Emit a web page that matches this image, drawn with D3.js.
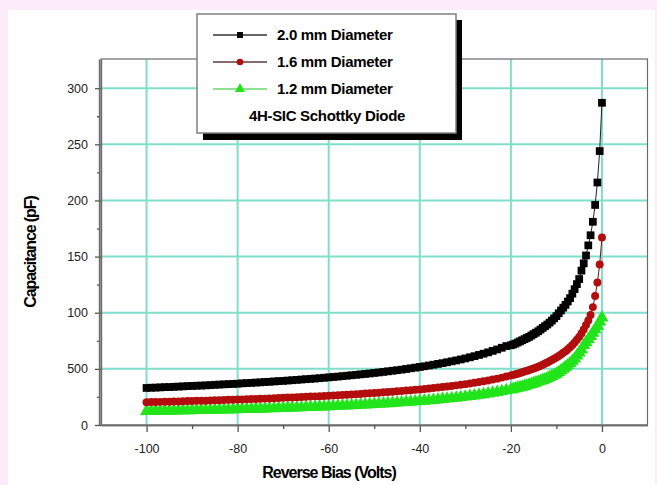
<!DOCTYPE html>
<html>
<head>
<meta charset="utf-8">
<script src="https://cdn.jsdelivr.net/npm/d3@7"></script>
<style>
  body { margin: 0; background: #fcecfb; }
  svg { display: block; font-family: "Liberation Sans", Arial, sans-serif; }
</style>
</head>
<body>
<div id="chart"></div>
<script>
// reverse bias sweep (volts): half-volt steps down to -20 V, then 1 V steps
const VOLTAGE = [0, -0.5, -1, -1.5, -2, -2.5, -3, -3.5, -4, -4.5, -5,
  -5.5, -6, -6.5, -7, -7.5, -8, -8.5, -9, -9.5, -10,
  -10.5, -11, -11.5, -12, -12.5, -13, -13.5, -14, -14.5, -15,
  -15.5, -16, -16.5, -17, -17.5, -18, -18.5, -19, -19.5, -20,
  -21, -22, -23, -24, -25, -26, -27, -28, -29, -30,
  -31, -32, -33, -34, -35, -36, -37, -38, -39, -40,
  -41, -42, -43, -44, -45, -46, -47, -48, -49, -50,
  -51, -52, -53, -54, -55, -56, -57, -58, -59, -60,
  -61, -62, -63, -64, -65, -66, -67, -68, -69, -70,
  -71, -72, -73, -74, -75, -76, -77, -78, -79, -80,
  -81, -82, -83, -84, -85, -86, -87, -88, -89, -90,
  -91, -92, -93, -94, -95, -96, -97, -98, -99, -100];

// capacitance (pF)
const CAP_20MM = [287, 244, 216, 196, 181, 169, 160, 151, 144, 137.5, 130,
  125.5, 121, 117, 113, 110, 107, 104.5, 102, 99.5, 97,
  95, 93, 91.2, 89.5, 88, 86.5, 85, 83.5, 82.2, 81,
  79.7, 78.5, 77.5, 76.5, 75.5, 74.5, 73.5, 72.5, 71.7, 71,
  70.3, 68.8, 67.3, 66.0, 64.7, 63.5, 62.4, 61.3, 60.3, 59.3,
  58.4, 57.5, 56.7, 55.9, 55.1, 54.4, 53.7, 53.0, 52.3, 51.7,
  51.1, 50.5, 49.9, 49.3, 48.8, 48.3, 47.8, 47.3, 46.8, 46.4,
  45.9, 45.5, 45.1, 44.7, 44.3, 43.9, 43.5, 43.1, 42.8, 42.4,
  42.1, 41.7, 41.4, 41.1, 40.8, 40.5, 40.2, 39.9, 39.6, 39.3,
  39.1, 38.8, 38.5, 38.3, 38.0, 37.8, 37.5, 37.3, 37.1, 36.8,
  36.6, 36.4, 36.2, 36.0, 35.8, 35.5, 35.3, 35.1, 35.0, 34.8,
  34.6, 34.4, 34.2, 34.0, 33.8, 33.7, 33.5, 33.3, 33.2, 33.0];

const CAP_16MM = [167, 143, 127, 115, 105, 98, 93, 89, 85, 81.5, 78.5,
  76, 73.5, 71.3, 69.3, 67.5, 65.8, 64.3, 62.8, 61.5, 60.2,
  59, 57.8, 56.7, 55.7, 54.7, 53.7, 52.8, 51.9, 51.1, 50.3,
  49.6, 48.9, 48.2, 47.6, 46.9, 46.3, 45.7, 45.2, 44.6, 44.1,
  43.1, 42.2, 41.3, 40.5, 39.7, 39.0, 38.3, 37.7, 37.0, 36.4,
  35.9, 35.3, 34.8, 34.3, 33.9, 33.4, 33.0, 32.5, 32.1, 31.7,
  31.4, 31.0, 30.7, 30.3, 30.0, 29.7, 29.4, 29.1, 28.8, 28.5,
  28.2, 28.0, 27.7, 27.5, 27.2, 27.0, 26.7, 26.5, 26.3, 26.1,
  25.9, 25.7, 25.5, 25.3, 25.1, 24.9, 24.7, 24.5, 24.4, 24.2,
  24.0, 23.9, 23.7, 23.5, 23.4, 23.2, 23.1, 22.9, 22.8, 22.7,
  22.5, 22.4, 22.2, 22.1, 22.0, 21.9, 21.7, 21.6, 21.5, 21.4,
  21.3, 21.2, 21.0, 20.9, 20.8, 20.7, 20.6, 20.5, 20.4, 20.3];

const CAP_12MM = [95.5, 92, 88, 85, 82, 79, 76.5, 73.5, 71, 67, 64.5,
  61.8, 59, 57, 55, 53.2, 51.5, 50, 48.5, 47, 45.5,
  44.5, 43.5, 42.5, 41.5, 40.7, 40, 39.2, 38.5, 37.7, 37,
  36.4, 35.8, 35.2, 34.6, 34, 33.5, 33, 32.5, 32, 31.5,
  30.8, 30.0, 29.3, 28.6, 27.9, 27.3, 26.8, 26.2, 25.7, 25.1,
  24.7, 24.2, 23.8, 23.4, 23.0, 22.6, 22.2, 21.8, 21.5, 21.2,
  20.9, 20.6, 20.3, 20.0, 19.8, 19.5, 19.3, 19.0, 18.8, 18.6,
  18.3, 18.1, 17.9, 17.7, 17.5, 17.3, 17.1, 16.9, 16.7, 16.5,
  16.4, 16.2, 16.1, 15.9, 15.8, 15.6, 15.5, 15.4, 15.2, 15.1,
  15.0, 14.8, 14.7, 14.6, 14.4, 14.4, 14.2, 14.1, 14.0, 13.9,
  13.8, 13.7, 13.6, 13.5, 13.4, 13.3, 13.3, 13.2, 13.1, 13.0,
  12.9, 12.9, 12.8, 12.7, 12.6, 12.6, 12.5, 12.4, 12.4, 12.3];

const SERIES_NAMES = ["2.0 mm Diameter", "1.6 mm Diameter", "1.2 mm Diameter"];
const LEGEND_NOTE = "4H-SIC Schottky Diode";

const X_TICKS = [-100, -80, -60, -40, -20, 0];
const X_TICK_LABELS = ["-100", "-80", "-60", "-40", "-20", "0"];
const X_MINOR = [-90, -70, -50, -30, -10];
const Y_TICKS = [0, 50, 100, 150, 200, 250, 300];
const Y_TICK_LABELS = ["0", "500", "100", "150", "200", "250", "300"]; // as printed
const Y_MINOR = [25, 75, 125, 175, 225, 275];

const WIDTH = 657, HEIGHT = 485;
const GRID_COLOR = "#7fdfcb";
const FONT = '"Liberation Sans", Arial, sans-serif';

const series = [
  { name: SERIES_NAMES[0], values: CAP_20MM, color: "#000000", line: "#222", legendLine: "#666", symbol: d3.symbolSquare, size: 60, legendSize: 36 },
  { name: SERIES_NAMES[1], values: CAP_16MM, color: "#b30d0d", line: "#7a1010", legendLine: "#8a6b6b", symbol: d3.symbolCircle, size: 50, legendSize: 34 },
  { name: SERIES_NAMES[2], values: CAP_12MM, color: "#22e41a", line: "#22d41a", legendLine: "#8fe08f", symbol: d3.symbolTriangle, size: 75, legendSize: 45 },
];

const svg = d3.select("#chart").append("svg")
  .attr("width", WIDTH)
  .attr("height", HEIGHT);

// pink page with white panel
svg.append("rect").attr("width", WIDTH).attr("height", HEIGHT).attr("fill", "#fcecfb");
svg.append("rect").attr("x", 8).attr("y", 10).attr("width", 647).attr("height", HEIGHT - 10).attr("fill", "#fff");

const plot = { left: 101, right: 647.5, top: 59, bottom: 425 };
const xScale = d3.scaleLinear().domain([-110, 10]).range([plot.left, plot.right]);
const yScale = d3.scaleLinear().domain([0, 326]).range([plot.bottom, plot.top]);

// grid
const grid = svg.append("g").attr("stroke", GRID_COLOR).attr("stroke-width", 2);
grid.selectAll(".gx").data(X_TICKS).join("line")
  .attr("x1", d => xScale(d)).attr("x2", d => xScale(d))
  .attr("y1", plot.top).attr("y2", plot.bottom);
grid.selectAll(".gy").data(Y_TICKS.slice(1)).join("line")
  .attr("y1", d => yScale(d)).attr("y2", d => yScale(d))
  .attr("x1", plot.left).attr("x2", plot.right);

// frame
svg.append("rect")
  .attr("x", plot.left).attr("y", plot.top)
  .attr("width", plot.right - plot.left).attr("height", plot.bottom - plot.top)
  .attr("fill", "none").attr("stroke", "#6b6b6b").attr("stroke-width", 1.2);

// axes
svg.append("g")
  .attr("transform", `translate(0,${plot.bottom})`)
  .call(d3.axisBottom(xScale).tickValues(X_TICKS).tickSize(7).tickSizeOuter(0).tickPadding(12)
    .tickFormat((d, i) => X_TICK_LABELS[i]));
svg.append("g")
  .attr("transform", `translate(0,${plot.bottom})`)
  .call(d3.axisBottom(xScale).tickValues(X_MINOR).tickSize(4).tickSizeOuter(0).tickFormat(""));

svg.append("g")
  .attr("transform", `translate(${plot.left},0)`)
  .call(d3.axisLeft(yScale).tickValues(Y_TICKS).tickSize(6).tickSizeOuter(0).tickPadding(7)
    .tickFormat((d, i) => Y_TICK_LABELS[i]));
svg.append("g")
  .attr("transform", `translate(${plot.left - 2},0)`)
  .call(d3.axisLeft(yScale).tickValues(Y_MINOR).tickSize(2).tickSizeOuter(0).tickFormat(""));

svg.selectAll(".domain").attr("stroke", "#6b6b6b").attr("stroke-width", 1.4);
svg.selectAll(".tick line").attr("stroke", "#555").attr("stroke-width", 1.3);
svg.selectAll(".tick text")
  .attr("font-family", FONT).attr("font-size", 12.5).attr("fill", "#222");

// axis titles
svg.append("text")
  .attr("x", 329).attr("y", 478)
  .attr("text-anchor", "middle")
  .attr("font-family", FONT).attr("font-size", 16).attr("font-weight", "bold")
  .attr("letter-spacing", -1)
  .text("Reverse Bias (Volts)");
svg.append("text")
  .attr("transform", "translate(36,252) rotate(-90)")
  .attr("text-anchor", "middle")
  .attr("font-family", FONT).attr("font-size", 16).attr("font-weight", "bold")
  .attr("letter-spacing", -1.1)
  .text("Capacitance (pF)");

// data series, smallest first so the 2.0 mm curve sits on top
const lineGen = (vals) => d3.line()
  .x((d, i) => xScale(VOLTAGE[i]))
  .y(d => yScale(d))(vals);

const marks = svg.append("g");
series.slice().reverse().forEach(s => {
  const g = marks.append("g");
  g.append("path")
    .attr("d", lineGen(s.values))
    .attr("fill", "none").attr("stroke", s.line).attr("stroke-width", 1);
  g.selectAll("path.pt").data(s.values).join("path")
    .attr("class", "pt")
    .attr("transform", (d, i) => `translate(${xScale(VOLTAGE[i])},${yScale(d)})`)
    .attr("d", d3.symbol().type(s.symbol).size(s.size))
    .attr("fill", s.color);
});

// legend with drop shadow
const legend = svg.append("g");
legend.append("rect")
  .attr("x", 203).attr("y", 20).attr("width", 259).attr("height", 120)
  .attr("fill", "#000");
legend.append("rect")
  .attr("x", 197).attr("y", 14).attr("width", 259).attr("height", 119)
  .attr("fill", "#fff").attr("stroke", "#808080").attr("stroke-width", 1.5);

const rows = legend.selectAll(".row").data(series).join("g")
  .attr("class", "row")
  .attr("transform", (d, i) => `translate(0,${35 + i * 27})`);
rows.append("line")
  .attr("x1", 213).attr("x2", 267)
  .attr("stroke", d => d.legendLine).attr("stroke-width", 2);
rows.append("path")
  .attr("transform", "translate(240,0)")
  .attr("d", d => d3.symbol().type(d.symbol).size(d.legendSize)())
  .attr("fill", d => d.color);
rows.append("text")
  .attr("x", 277).attr("y", 5)
  .attr("font-family", FONT).attr("font-size", 15).attr("font-weight", "bold")
  .attr("letter-spacing", -0.3)
  .text(d => d.name);

legend.append("text")
  .attr("x", 327).attr("y", 121)
  .attr("text-anchor", "middle")
  .attr("font-family", FONT).attr("font-size", 15).attr("font-weight", "bold")
  .attr("letter-spacing", -0.3)
  .text(LEGEND_NOTE);
</script>
</body>
</html>
